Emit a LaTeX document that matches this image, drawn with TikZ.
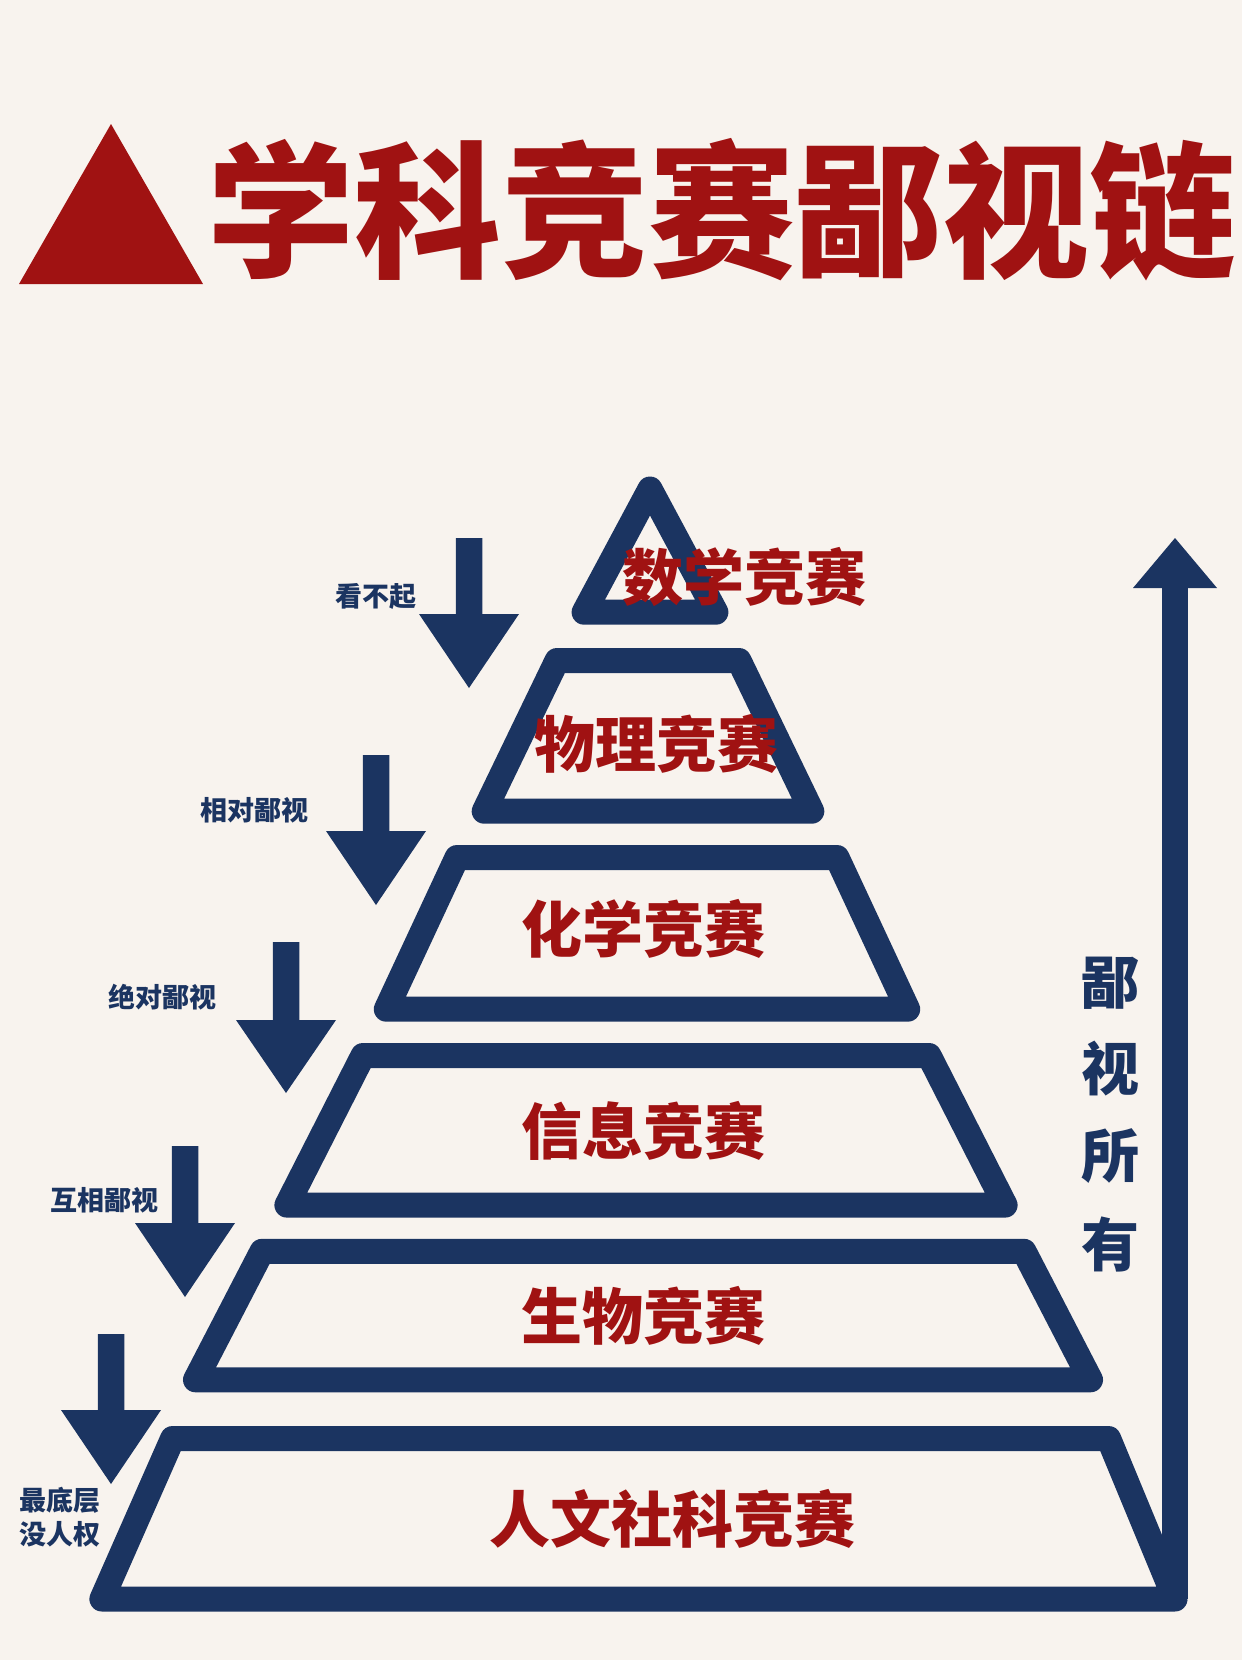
\documentclass[tikz,border=0pt]{standalone}
\usepackage{fontspec}
\newfontfamily\cjk{Noto Sans CJK SC}
\definecolor{bgc}{HTML}{F8F3EE}
\definecolor{navy}{HTML}{1B3461}
\definecolor{cred}{HTML}{A01212}
\newcommand\darr[4]{\fill[navy] (#1-13.25,#2) -- (#1+13.25,#2) -- (#1+13.25,#3) -- (#1+50,#3) -- (#1,#4) -- (#1-50,#3) -- (#1-13.25,#3) -- cycle;}
\newcommand\trap[5]{\draw[lvl] (#1-#4,#2) -- (#1+#4,#2) -- (#1+#5,#3) -- (#1-#5,#3) -- cycle;}
\tikzset{
  lvl/.style={draw=navy, line width=25pt, line join=round},
  lvltxt/.style={text=cred, font=\cjk\bfseries\fontsize{61}{61}\selectfont, inner sep=0pt},
  lbl/.style={text=navy, font=\cjk\bfseries\fontsize{27}{27}\selectfont, inner sep=0pt},
  vtxt/.style={text=navy, font=\cjk\bfseries\fontsize{58}{58}\selectfont, inner sep=0pt},
}
\begin{document}
\begin{tikzpicture}[x=1pt,y=-1pt]
\fill[bgc] (0,0) rectangle (1242,1660);
\useasboundingbox (0,0) rectangle (1242,1660);
% title
\fill[cred] (111,124) -- (203,284) -- (19,284) -- cycle;
\node[text=cred, font=\cjk\bfseries\fontsize{147}{147}\selectfont, inner sep=0pt] (title) at (722,210) {学科竞赛鄙视链};
% pyramid
\draw[lvl] (650,489) -- (715.9,612.2) -- (584.1,612.2) -- cycle;
\trap{648}{660.5}{811.2}{91}{163.8}
\trap{647}{857.5}{1009.2}{190}{260.7}
\trap{646}{1055.5}{1205.1}{283}{359.1}
\trap{643}{1251.3}{1379.8}{381}{447.5}
\draw[lvl] (172.6,1438.5) -- (1108.6,1438.5) -- (1175,1599) -- (101.9,1599) -- cycle;
% right arrow
\draw[navy, line width=26.5pt] (1175,1599) -- (1175,586);
\fill[navy] (1133,588) -- (1217,588) -- (1175,538) -- cycle;
% level texts
\node[lvltxt] (l1) at (744,577) {数学竞赛};
\node[lvltxt] (l2) at (656,744) {物理竞赛};
\node[lvltxt] (l3) at (643,929) {化学竞赛};
\node[lvltxt] (l4) at (643,1131) {信息竞赛};
\node[lvltxt] (l5) at (643,1316) {生物竞赛};
\node[lvltxt] (l6) at (672,1519) {人文社科竞赛};
% down arrows
\darr{469}{538}{614}{688}
\darr{376}{755}{831}{905}
\darr{286}{942}{1020}{1093}
\darr{185}{1146}{1223}{1297}
\darr{111}{1334}{1410}{1484}
% labels
\node[lbl] (a1) at (376,596) {看不起};
\node[lbl] (a2) at (254,810) {相对鄙视};
\node[lbl] (a3) at (162,997) {绝对鄙视};
\node[lbl] (a4) at (104,1200) {互相鄙视};
\node[lbl] (a5) at (60,1500) {最底层};
\node[lbl] (a6) at (60,1534) {没人权};
% vertical text
\node[vtxt] (v1) at (1110,983) {鄙};
\node[vtxt] (v2) at (1110,1069) {视};
\node[vtxt] (v3) at (1110,1156) {所};
\node[vtxt] (v4) at (1110,1244) {有};
\end{tikzpicture}
\end{document}
